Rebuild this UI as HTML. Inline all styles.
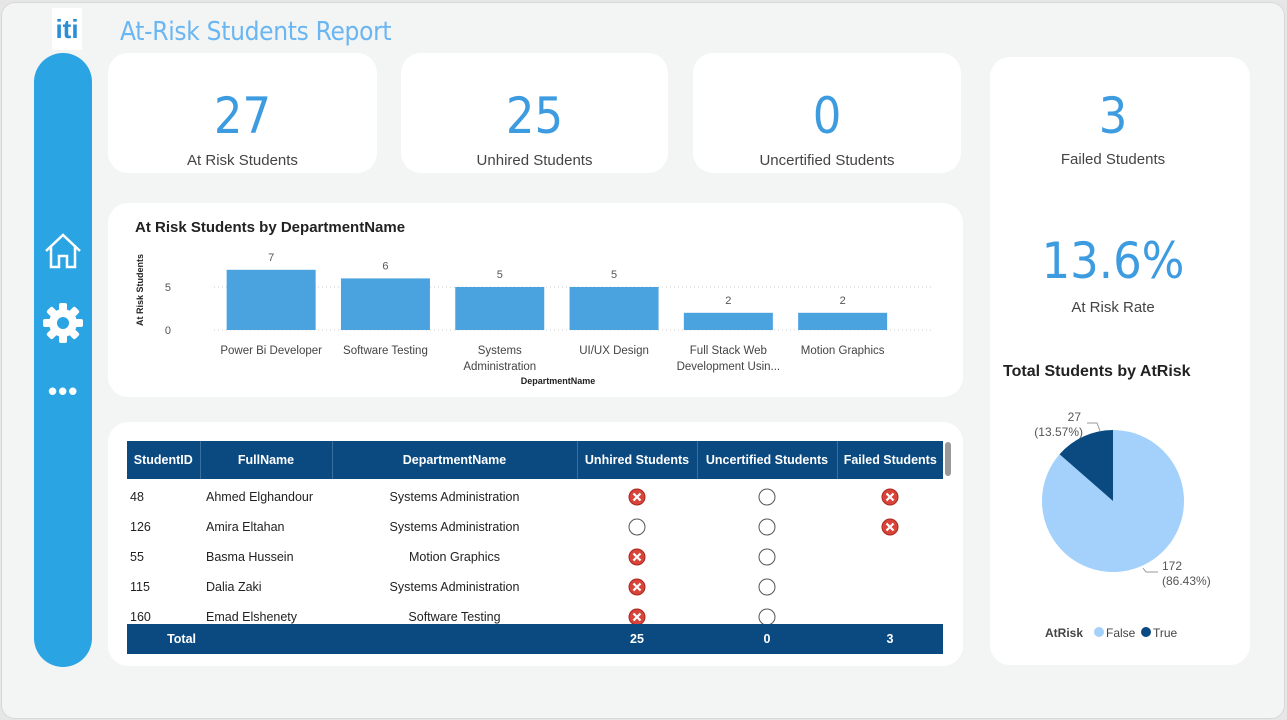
<!DOCTYPE html>
<html><head><meta charset="utf-8"><style>
body{margin:0;width:1287px;height:720px;background:#e6e6e6;font-family:"Liberation Sans",sans-serif;overflow:hidden}
.frame{position:absolute;left:1px;top:2px;width:1282px;height:715px;background:#f3f4f4;border-radius:14px;border:1px solid #d8d8d8}
.card{position:absolute;background:#fff;border-radius:20px}
.kpi{text-align:center}
.kpi .v{font-size:50px;color:#3d9be0;position:absolute;width:100%;top:34px;font-family:"DejaVu Sans Condensed","Liberation Sans",sans-serif}
.kpi .l{font-size:15px;color:#444;position:absolute;width:100%;top:99px}
table{border-collapse:collapse;font-size:12.5px;color:#222}
</style></head><body>
<div class="frame"></div>
<div style="position:absolute;left:52px;top:8px;width:30px;height:42px;background:#fff;color:#2a8fd6;font-weight:bold;font-size:26px;text-align:center;line-height:42px">iti</div>
<div style="position:absolute;left:120px;top:17px;font-size:26px;color:#6ab6f2;font-family:'DejaVu Sans Condensed','Liberation Sans',sans-serif;letter-spacing:-0.3px">At-Risk Students Report</div>
<div style="position:absolute;left:34px;top:53px;width:58px;height:614px;background:#2ba4e4;border-radius:29px"></div>
<svg style="position:absolute;left:43px;top:232px" width="40" height="38" viewBox="0 0 40 38"><path d="M3 19 L20 3 L37 19 M8 15 V35 H16 V24 H24 V35 H32 V15" fill="none" stroke="#fff" stroke-width="2.5"/></svg>
<svg style="position:absolute;left:42px;top:302px" width="42" height="42" viewBox="0 0 42 42"><g fill="#fff"><circle cx="21" cy="21" r="14"/><rect x="17" y="1" width="8" height="40" rx="2"/><rect x="17" y="1" width="8" height="40" rx="2" transform="rotate(45 21 21)"/><rect x="17" y="1" width="8" height="40" rx="2" transform="rotate(90 21 21)"/><rect x="17" y="1" width="8" height="40" rx="2" transform="rotate(135 21 21)"/></g><circle cx="21" cy="21" r="6" fill="#2ba4e4"/></svg>
<div style="position:absolute;left:48px;top:376px;color:#fff;font-size:26px;font-weight:bold;letter-spacing:1px">•••</div>

<div class="card kpi" style="left:108px;top:53px;width:269px;height:120px"><div class="v">27</div><div class="l">At Risk Students</div></div>
<div class="card kpi" style="left:401px;top:53px;width:267px;height:120px"><div class="v">25</div><div class="l">Unhired Students</div></div>
<div class="card kpi" style="left:693px;top:53px;width:268px;height:120px"><div class="v">0</div><div class="l">Uncertified Students</div></div>
<div class="card" style="left:990px;top:57px;width:260px;height:608px"></div>
<div class="kpi" style="position:absolute;left:990px;top:53px;width:246px;height:120px"><div class="v">3</div><div class="l" style="top:98px">Failed Students</div></div>
<div class="kpi" style="position:absolute;left:990px;top:200px;width:246px;height:120px"><div class="v" style="top:32px">13.6%</div><div class="l">At Risk Rate</div></div>

<div class="card" style="left:108px;top:203px;width:855px;height:194px"></div>
<svg id="bar" style="position:absolute;left:0;top:0" width="1287" height="720"></svg>

<div class="card" style="left:108px;top:422px;width:855px;height:244px"></div>
<div style="position:absolute;left:945px;top:442px;width:6px;height:34px;background:#999;border-radius:3px"></div>
<div style="position:absolute;left:127px;top:441px;width:816px;height:213px;overflow:hidden">
<table id="tbl" style="width:816px;table-layout:fixed">
<colgroup><col style="width:73px"><col style="width:132px"><col style="width:245px"><col style="width:120px"><col style="width:140px"><col style="width:106px"></colgroup>
<thead><tr style="background:#0b4a80;color:#fff;font-weight:bold;height:38px;font-size:12.5px">
<th style="border-right:1px solid #3a6fa0">StudentID</th><th style="border-right:1px solid #3a6fa0">FullName</th><th style="border-right:1px solid #3a6fa0">DepartmentName</th><th style="border-right:1px solid #3a6fa0">Unhired Students</th><th style="border-right:1px solid #3a6fa0">Uncertified Students</th><th>Failed Students</th></tr></thead>
<tbody id="tb"></tbody></table></div>
<div style="position:absolute;left:127px;top:624px;width:816px;height:30px;background:#0b4a80;color:#fff;font-weight:bold;font-size:12.5px;line-height:30px">
<span style="position:absolute;left:0;width:69px;text-align:right">Total</span>
<span style="position:absolute;left:450px;width:120px;text-align:center">25</span>
<span style="position:absolute;left:570px;width:140px;text-align:center">0</span>
<span style="position:absolute;left:710px;width:106px;text-align:center">3</span></div>

<div style="position:absolute;left:1003px;top:363px;font-size:16px;color:#222;font-weight:bold">Total Students by AtRisk</div>
<svg id="pie" style="position:absolute;left:0;top:0" width="1287" height="720"></svg>

<script>
const NS="http://www.w3.org/2000/svg";
function mk(p,t,a){const e=document.createElementNS(NS,t);for(const k in a)e.setAttribute(k,a[k]);p.appendChild(e);return e;}
// bar chart data
const departments=["Power Bi Developer","Software Testing","Systems Administration","UI/UX Design","Full Stack Web Development Usin...","Motion Graphics"];
const deptLabelLines=[["Power Bi Developer"],["Software Testing"],["Systems","Administration"],["UI/UX Design"],["Full Stack Web","Development Usin..."],["Motion Graphics"]];
const atRiskCounts=[7,6,5,5,2,2];
const yTicks=[0,5];
const bar=document.getElementById('bar');
const y0=330,pxPer=8.6,x0=214,step=114.3,bw=89;
const ys=v=>y0-v*pxPer, xs=i=>x0+i*step+step/2;
let t=mk(bar,'text',{x:135,y:232,'font-size':15,'font-weight':'bold',fill:'#222'});t.textContent="At Risk Students by DepartmentName";

yTicks.forEach(v=>{const g=mk(bar,'line',{x1:214,x2:933,y1:ys(v),y2:ys(v),stroke:'#ccc','stroke-dasharray':'1,3'});

const l=mk(bar,'text',{x:171,y:ys(v)+4,'font-size':11,fill:'#555','text-anchor':'end'});l.textContent=v;
});
t=mk(bar,'text',{x:0,y:0,'font-size':9,'font-weight':'bold',fill:'#222','text-anchor':'middle',transform:'translate(143,290) rotate(-90)'});t.textContent="At Risk Students";

atRiskCounts.forEach((v,i)=>{const r=mk(bar,'rect',{x:xs(i)-bw/2,y:ys(v),width:bw,height:v*pxPer,fill:'#4aa3df'});

const l=mk(bar,'text',{x:xs(i),y:ys(v)-9,'font-size':11,fill:'#555','text-anchor':'middle'});l.textContent=v;

deptLabelLines[i].forEach((s,j)=>{const c=mk(bar,'text',{x:xs(i),y:354+j*16,'font-size':11.5,fill:'#444','text-anchor':'middle'});c.textContent=s;
});});
t=mk(bar,'text',{x:558,y:384,'font-size':9,'font-weight':'bold',fill:'#222','text-anchor':'middle'});t.textContent="DepartmentName";


// table
const rows=[["48","Ahmed Elghandour","Systems Administration","x","o","x"],["126","Amira Eltahan","Systems Administration","o","o","x"],["55","Basma Hussein","Motion Graphics","x","o",""],["115","Dalia Zaki","Systems Administration","x","o",""],["160","Emad Elshenety","Software Testing","x","o",""]];
const xs_="<svg width='18' height='18'><circle cx='9' cy='9' r='8' fill='#d9443a' stroke='#a8281f'/><path d='M5.5 5.5L12.5 12.5M12.5 5.5L5.5 12.5' stroke='#fff' stroke-width='2.2'/></svg>";
const os_="<svg width='18' height='18'><circle cx='9' cy='9' r='8' fill='#fff' stroke='#555'/></svg>";
const tb=document.getElementById('tb');
rows.forEach((r,i)=>{const tr=document.createElement('tr');tr.style.height=(i==0?'33px':'30px');


r.forEach((c,j)=>{const td=document.createElement('td');td.style.padding='0 3px';if(i==0)td.style.paddingTop='3px';
if(j>=2)td.style.textAlign='center';if(j==1)td.style.paddingLeft='6px';
td.innerHTML=c=="x"?xs_:c=="o"?os_:c;if(j>=3)td.style.lineHeight='0';tr.appendChild(td);});tb.appendChild(tr);});

// pie
const pieCats=["False","True"];
const pieVals=[172,27];
const pieColors=["#a3d1fb","#0b4a80"];
const pie=document.getElementById('pie');
const cx=1113,cy=501,R=71,tot=pieVals.reduce((a,b)=>a+b,0);
let a0=0;
pieVals.forEach((v,i)=>{const a1=a0+v/tot*2*Math.PI;
const p=(a)=>[cx+R*Math.sin(a),cy-R*Math.cos(a)];
const [x1,y1]=p(a0),[x2,y2]=p(a1);
const s=mk(pie,'path',{d:`M${cx},${cy}L${x1},${y1}A${R},${R} 0 ${a1-a0>Math.PI?1:0} 1 ${x2},${y2}Z`,fill:pieColors[i]});
a0=a1;});
const lbl=[[1080,421,"27","(13.57%)"],[1162,570,"172","(86.43%)"]];
lbl.forEach((l,i)=>{[l[2],l[3]].forEach((s,j)=>{const e=mk(pie,'text',{x:i==0?(j==0?1081:1083):1162,y:l[1]+j*15,'font-size':12,fill:'#555','text-anchor':i==0?'end':'start'});e.textContent=s;
});});
mk(pie,'path',{d:'M1087,423 H1097 L1100,431',fill:'none',stroke:'#999'});
mk(pie,'path',{d:'M1143,568 L1146,572 H1158',fill:'none',stroke:'#999'});
let lg=mk(pie,'text',{x:1045,y:637,'font-size':12,'font-weight':'bold',fill:'#444'});lg.textContent="AtRisk";

[[1099,"False"],[1146,"True"]].forEach((e,i)=>{const c=mk(pie,'circle',{cx:e[0],cy:632,r:5,fill:pieColors[i]});

const tx=mk(pie,'text',{x:e[0]+7,y:637,'font-size':12,fill:'#444'});tx.textContent=pieCats[i];
});
</script>
</body></html>
